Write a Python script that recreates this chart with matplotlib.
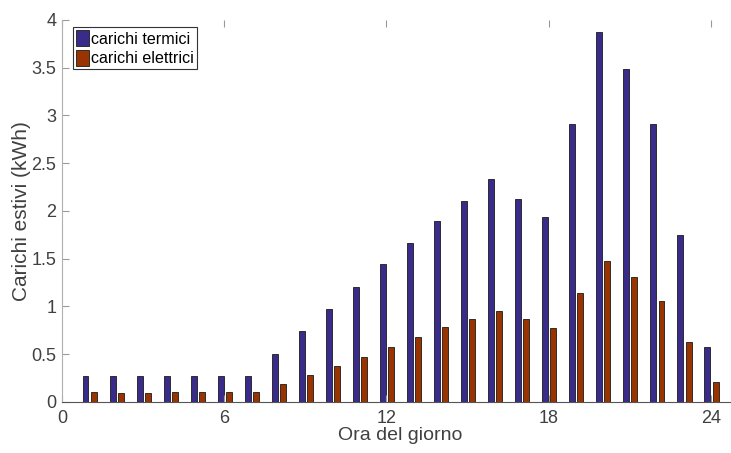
import matplotlib.pyplot as plt
import numpy as np

plt.rcParams['font.family'] = ['Liberation Sans', 'DejaVu Sans']

# summer loads per hour of day (kWh)
ore = np.arange(1, 25)
termici = [0.27, 0.27, 0.27, 0.27, 0.27, 0.27, 0.27, 0.50, 0.74, 0.97,
           1.20, 1.44, 1.67, 1.90, 2.10, 2.33, 2.13, 1.94, 2.91, 3.87,
           3.49, 2.91, 1.75, 0.58]
elettrici = [0.10, 0.09, 0.09, 0.10, 0.10, 0.10, 0.10, 0.19, 0.28, 0.38,
             0.47, 0.58, 0.68, 0.79, 0.87, 0.95, 0.87, 0.77, 1.14, 1.48,
             1.31, 1.06, 0.63, 0.21]
xticks = [0, 6, 12, 18, 24]
yticks = [0, 0.5, 1, 1.5, 2, 2.5, 3, 3.5, 4]
ylabels = ['0', '0.5', '1', '1.5', '2', '2.5', '3', '3.5', '4']

fig = plt.figure(figsize=(7.31, 4.53), dpi=100)
ax = fig.add_axes([0.0848, 0.1126, 0.9248, 0.8433])

w = 0.22
ax.bar(ore - 0.13, termici, w, color='#382b8a', edgecolor='#1a1a1a',
       linewidth=0.6, label='carichi termici')
ax.bar(ore + 0.17, elettrici, w, color='#993300', edgecolor='#1a1a1a',
       linewidth=0.6, label='carichi elettrici')

ax.set_xlim(0, 25)
ax.set_ylim(0, 4)
ax.set_xticks(xticks)
ax.set_yticks(yticks)
ax.set_yticklabels(ylabels)
ax.tick_params(direction='in', length=5, colors='#9a9a9a', labelcolor='#404040',
               labelsize=13, top=True, width=0.8)
ax.tick_params(axis='x', pad=6)
ax.tick_params(axis='y', pad=4)
ax.spines['top'].set_visible(False)
ax.spines['right'].set_visible(False)
ax.spines['left'].set_color('#b0b0b0')
ax.spines['bottom'].set_color('#555555')

ax.set_xlabel('Ora del giorno', fontsize=14, color='#404040', labelpad=0)
ax.set_ylabel('Carichi estivi (kWh)', fontsize=15, color='#404040', labelpad=0)

leg = ax.legend(loc='upper left', bbox_to_anchor=(0.0158, 0.982), fontsize=11.6,
                handlelength=0.8, handleheight=1.15, handletextpad=0.12,
                borderpad=0.2, labelspacing=0.2, borderaxespad=0,
                fancybox=False, framealpha=1)
leg.get_frame().set_edgecolor('#333333')
leg.get_frame().set_linewidth(0.8)

fig.savefig('out.png', dpi=100)
